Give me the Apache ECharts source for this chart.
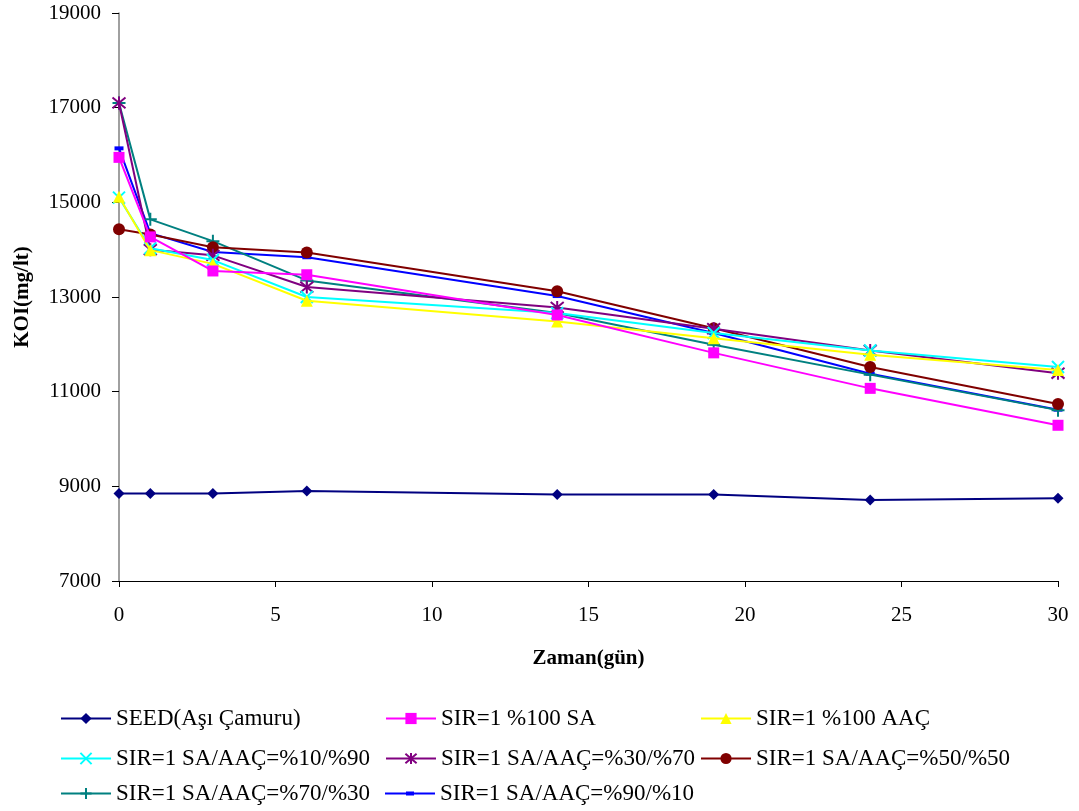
<!DOCTYPE html>
<html>
<head>
<meta charset="utf-8">
<script src="https://cdn.jsdelivr.net/npm/echarts@6/dist/echarts.min.js"></script>
<style>html,body{margin:0;padding:0;background:#fff;}#c{width:1079px;height:811px;}</style>
</head>
<body>
<div id="c"></div>
<script>
const days = [0, 1, 3, 6, 14, 19, 24, 30];
const seriesNames = [
  'SEED(Aşı Çamuru)',
  'SIR=1 %100 SA',
  'SIR=1 %100 AAÇ',
  'SIR=1 SA/AAÇ=%10/%90',
  'SIR=1 SA/AAÇ=%30/%70',
  'SIR=1 SA/AAÇ=%50/%50',
  'SIR=1 SA/AAÇ=%70/%30',
  'SIR=1 SA/AAÇ=%90/%10'
];
const seed   = [8850, 8850, 8850, 8900, 8830, 8830, 8710, 8750];
const sa100  = [15950, 14270, 13550, 13470, 12620, 11820, 11070, 10290];
const aac100 = [15120, 13990, 13700, 12920, 12480, 12130, 11780, 11460];
const r10_90 = [15100, 14030, 13780, 13000, 12660, 12240, 11870, 11520];
const r30_70 = [17100, 14000, 13880, 13210, 12780, 12330, 11870, 11390];
const r50_50 = [14430, 14320, 14050, 13940, 13120, 12340, 11520, 10740];
const r70_30 = [17100, 14640, 14180, 13350, 12660, 11990, 11360, 10610];
const r90_10 = [16140, 14350, 13950, 13840, 13020, 12240, 11380, 10620];
const yTicks = [7000, 9000, 11000, 13000, 15000, 17000, 19000];
const xTicks = [0, 5, 10, 15, 20, 25, 30];

const values = [seed, sa100, aac100, r10_90, r30_70, r50_50, r70_30, r90_10];
const colors = ['#000080', '#FF00FF', '#FFFF00', '#00FFFF', '#800080', '#800000', '#008080', '#0000FF'];
const symbols = [
  'diamond', 'rect', 'triangle',
  'path://M0,0L10,10M10,0L0,10',
  'path://M0,0L10,10M10,0L0,10M5,-1L5,11',
  'circle',
  'path://M5,0L5,10M0,5L10,5',
  'rect'
];
const symSizes = [11, 11, 12, 12, 13, 12, 13, [9, 4]];
const strokeOnly = [false, false, false, true, true, false, true, false];

const FONT = '"Liberation Serif", "Times New Roman", serif';

const series = seriesNames.map((n, i) => ({
  name: n,
  type: 'line',
  data: days.map((d, j) => [d, values[i][j]]),
  symbol: symbols[i],
  symbolSize: symSizes[i],
  showAllSymbol: true,
  lineStyle: { color: colors[i], width: 2 },
  itemStyle: strokeOnly[i]
    ? { color: colors[i], borderColor: colors[i], borderWidth: 2 }
    : { color: colors[i] },
  emphasis: { disabled: true },
  animation: false,
  z: 10 - i
}));

// custom legend icon for the dash-marker series (line + short dash)
const dashIcon = 'path://M0,0h0.01v0.01h-0.01z M50,14h-0.01v-0.01h0.01z M0,6h50v2H0z M21,5h8v4h-8z';

const colX = [60, 385, 700];
const rowY = [707, 747, 782];
const legends = seriesNames.map((n, i) => ({
  data: [i === 7 ? { name: n, icon: dashIcon } : n],
  left: colX[i % 3],
  top: rowY[Math.floor(i / 3)],
  itemWidth: 50,
  itemHeight: 14,
  itemGap: 0,
  padding: 0,
  selectedMode: false,
  textStyle: { fontFamily: FONT, fontSize: 23, color: '#000' }
}));

const chart = echarts.init(document.getElementById('c'));
chart.setOption({
  backgroundColor: '#fff',
  animation: false,
  grid: { left: 119, right: 21, top: 13, bottom: 230, containLabel: false },
  xAxis: {
    type: 'value',
    min: 0, max: 30, interval: 5,
    name: 'Zaman(gün)',
    nameLocation: 'middle',
    nameGap: 67,
    nameTextStyle: { fontFamily: FONT, fontSize: 21, fontWeight: 'bold', color: '#000' },
    axisLine: { show: true, lineStyle: { color: '#000', width: 1 } },
    axisTick: { show: true, inside: false, length: 6, lineStyle: { color: '#000' } },
    axisLabel: { fontFamily: FONT, fontSize: 21, color: '#000', margin: 24,
      formatter: v => xTicks.includes(v) ? String(v) : '' },
    splitLine: { show: false }
  },
  yAxis: {
    type: 'value',
    min: 7000, max: 19000, interval: 2000,
    name: 'KOI(mg/lt)',
    nameLocation: 'middle',
    nameGap: 86,
    nameTextStyle: { fontFamily: FONT, fontSize: 21, fontWeight: 'bold', color: '#000' },
    axisLine: { show: true, lineStyle: { color: '#808080', width: 1.5 } },
    axisTick: { show: true, inside: false, length: 7, lineStyle: { color: '#000' } },
    axisLabel: { fontFamily: FONT, fontSize: 21, color: '#000', margin: 18,
      formatter: v => yTicks.includes(v) ? String(v) : '' },
    splitLine: { show: false }
  },
  legend: legends,
  series: series
});
</script>
</body>
</html>
